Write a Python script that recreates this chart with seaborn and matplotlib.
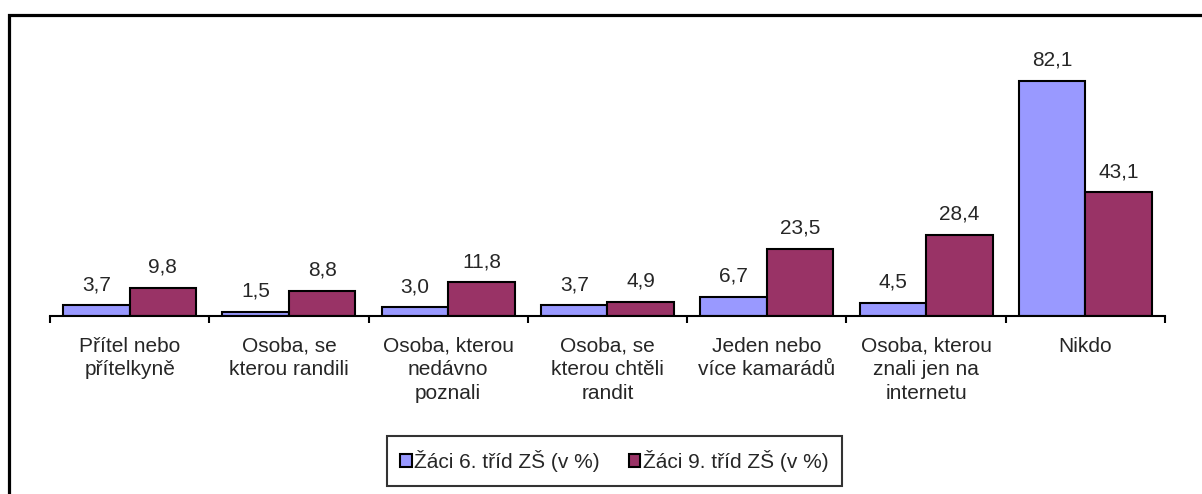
import matplotlib
matplotlib.use("Agg")
import matplotlib.pyplot as plt
from matplotlib.patches import Rectangle
import pandas as pd
import seaborn as sns

# data
kategorie = [
    "Přítel nebo\npřítelkyně",
    "Osoba, se\nkterou randili",
    "Osoba, kterou\nnedávno\npoznali",
    "Osoba, se\nkterou chtěli\nrandit",
    "Jeden nebo\nvíce kamarádů",
    "Osoba, kterou\nznali jen na\ninternetu",
    "Nikdo",
]
skupiny = ["Žáci 6. tříd ZŠ (v %)", "Žáci 9. tříd ZŠ (v %)"]
zaci_6 = [3.7, 1.5, 3.0, 3.7, 6.7, 4.5, 82.1]
zaci_9 = [9.8, 8.8, 11.8, 4.9, 23.5, 28.4, 43.1]
barvy = ["#9999FF", "#993366"]

df = pd.DataFrame({
    "kategorie": kategorie * 2,
    "skupina": [skupiny[0]] * len(kategorie) + [skupiny[1]] * len(kategorie),
    "hodnota": zaci_6 + zaci_9,
})

sns.set_style("white")
plt.rcParams["font.family"] = ["Liberation Sans", "DejaVu Sans"]
FS = 15

fig = plt.figure(figsize=(12.02, 4.94), dpi=100)
ax = fig.add_axes([0.0416, 0.3603, 0.9276, 0.5223])

sns.barplot(data=df, x="kategorie", y="hodnota", hue="skupina",
            palette=barvy, width=0.835, gap=0, edgecolor="black",
            linewidth=1.5, ax=ax, errorbar=None, saturation=1)

for cont in ax.containers:
    vals = [b.get_height() for b in cont]
    ax.bar_label(cont, labels=[f"{v:.1f}".replace(".", ",") for v in vals],
                 padding=8, fontsize=FS)

ax.set_xlim(-0.5, len(kategorie) - 0.5)
ax.set_ylim(0, 90)
ax.set_xlabel("")
ax.set_ylabel("")
ax.set_yticks([])
for s in ["top", "right", "left"]:
    ax.spines[s].set_visible(False)
ax.spines["bottom"].set_linewidth(1.5)
ax.spines["bottom"].set_color("black")

ax.set_xticks(range(len(kategorie)))
ax.set_xticklabels(kategorie, fontsize=FS, va="top", linespacing=1.3)
ax.set_xticks([i - 0.5 for i in range(len(kategorie) + 1)], minor=True)
ax.tick_params(axis="x", which="major", length=0, pad=15)
ax.tick_params(axis="x", which="minor", length=5, width=1.5, color="black",
               direction="out", bottom=True)

ax.get_legend().remove()
h, l = ax.get_legend_handles_labels()
leg = fig.legend(h, l, loc="center", bbox_to_anchor=(0.511, 0.0668), ncol=2,
                 frameon=True, fancybox=False, edgecolor="black", fontsize=FS,
                 handlelength=0.55, handleheight=0.55, handletextpad=0.12,
                 columnspacing=1.4, borderpad=0.65)
leg.get_frame().set_linewidth(1.5)

fig.patches.append(Rectangle((0.0079, -0.1), 1.1, 1.0696, transform=fig.transFigure,
                             fill=False, edgecolor="black", linewidth=2.3))

fig.savefig("out.png", dpi=100)
